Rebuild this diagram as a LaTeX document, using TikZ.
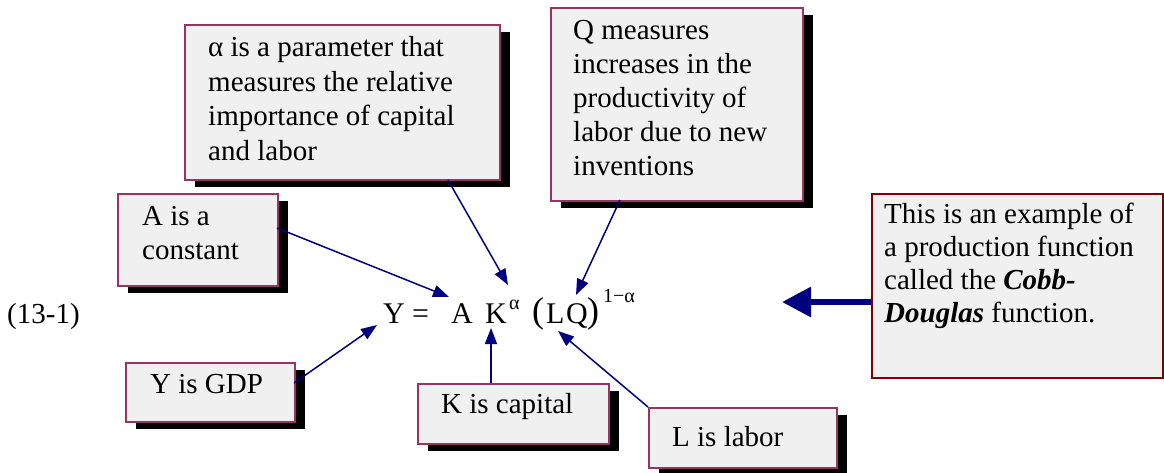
\documentclass[tikz,border=0pt]{standalone}
\usepackage{fontspec}
\setmainfont{Liberation Serif}
\usetikzlibrary{arrows.meta,shadows}
\definecolor{plum}{RGB}{153,51,102}
\definecolor{boxfill}{RGB}{240,240,240}
\definecolor{navyc}{RGB}{0,0,128}
\definecolor{maroonc}{RGB}{128,0,0}
\tikzset{
  notebox/.style={draw=plum, line width=1.5pt, fill=boxfill, inner sep=0pt, anchor=north west,
    general shadow={fill=black, shadow xshift=10pt, shadow yshift=-7pt}},
  mainbox/.style={draw=maroonc, line width=2pt, fill=boxfill, inner sep=0pt, anchor=north west},
  txt/.style={font=\fontsize{29}{34.5}\selectfont, anchor=base west, inner sep=0pt, align=left},
  eq/.style={font=\fontsize{30}{30}\selectfont, anchor=base west, inner sep=0pt},
  paren/.style={font=\fontsize{36}{36}\selectfont, anchor=base west, inner sep=0pt},
  sup/.style={font=\fontsize{20}{20}\selectfont, anchor=base west, inner sep=0pt},
  conn/.style={draw=navyc, line width=1.5pt, -{Triangle[length=16pt,width=12pt]}},
  bigconn/.style={draw=navyc, line width=6pt, -{Triangle[length=29pt,width=29pt]}},
}
\begin{document}
\begin{tikzpicture}[x=1pt,y=-1pt]
\useasboundingbox (0,0) rectangle (1164,472);

% boxes
\node[notebox, minimum width=315pt, minimum height=155pt] (alphabox) at (184,24) {};
\node[notebox, minimum width=252pt, minimum height=193pt] (qbox) at (550,7) {};
\node[notebox, minimum width=160pt, minimum height=92pt] (abox) at (117,193) {};
\node[notebox, minimum width=169pt, minimum height=59pt] (ybox) at (125,362) {};
\node[notebox, minimum width=191pt, minimum height=60pt] (kbox) at (417,383) {};
\node[notebox, minimum width=188pt, minimum height=60pt] (lbox) at (648,407) {};
\node[mainbox, minimum width=291pt, minimum height=184pt] (cbox) at (871,193) {};

% box texts (multi-line nodes: base = baseline of last line)
\node[txt] (alphatext) at (208,160) {α is a parameter that\\measures the relative\\importance of capital\\and labor};
\node[txt, font=\fontsize{29}{34}\selectfont] (qtext) at (573,175) {Q measures\\increases in the\\productivity of\\labor due to new\\inventions};
\node[txt, font=\fontsize{29}{34}\selectfont] (atext) at (142,259) {A is a\\constant};
\node[txt] (ytext) at (150,393) {Y is GDP};
\node[txt] (ktext) at (441,413) {K is capital};
\node[txt] (ltext) at (672,446) {L is labor};
\node[txt, font=\fontsize{29}{33}\selectfont] (ctext) at (884,322) {This is an example of\\a production function\\called the \textbf{\textit{Cobb-}}\\\textbf{\textit{Douglas}} function.};

% equation
\node[txt] (eqnum) at (7,323) {(13-1)};
\node[eq] (eY) at (383,323) {Y};
\node[eq] (eEq) at (412,323) {=};
\node[eq] (eA) at (451,323) {A};
\node[eq] (eK) at (485,323) {K};
\node[sup] (eKa) at (509,309) {α};
\node[paren] (eLp) at (532,322) {(};
\node[eq] (eL) at (546,323) {L};
\node[eq] (eQ) at (566,323) {Q};
\node[paren] (eRp) at (587,322) {)};
\node[sup] (eExp) at (603,302) {1−α};

% connector end points
\coordinate (sA) at (277,228);
\coordinate (tA) at (449,297);
\coordinate (sAl) at (448,180);
\coordinate (tAl) at (508,285);
\coordinate (sQ) at (620,200);
\coordinate (tQ) at (576,295);
\coordinate (sY) at (294,383);
\coordinate (tY) at (377,325);
\coordinate (sK) at (491,383);
\coordinate (tK) at (491,328);
\coordinate (sL) at (648,407);
\coordinate (tL) at (558,331);
\coordinate (sC) at (871,302);
\coordinate (tC) at (782,302);

\draw[conn] (sA) -- (tA);
\draw[conn] (sAl) -- (tAl);
\draw[conn] (sQ) -- (tQ);
\draw[conn] (sY) -- (tY);
\draw[conn] (sK) -- (tK);
\draw[conn] (sL) -- (tL);
\draw[bigconn] (sC) -- (tC);
\end{tikzpicture}
\end{document}
